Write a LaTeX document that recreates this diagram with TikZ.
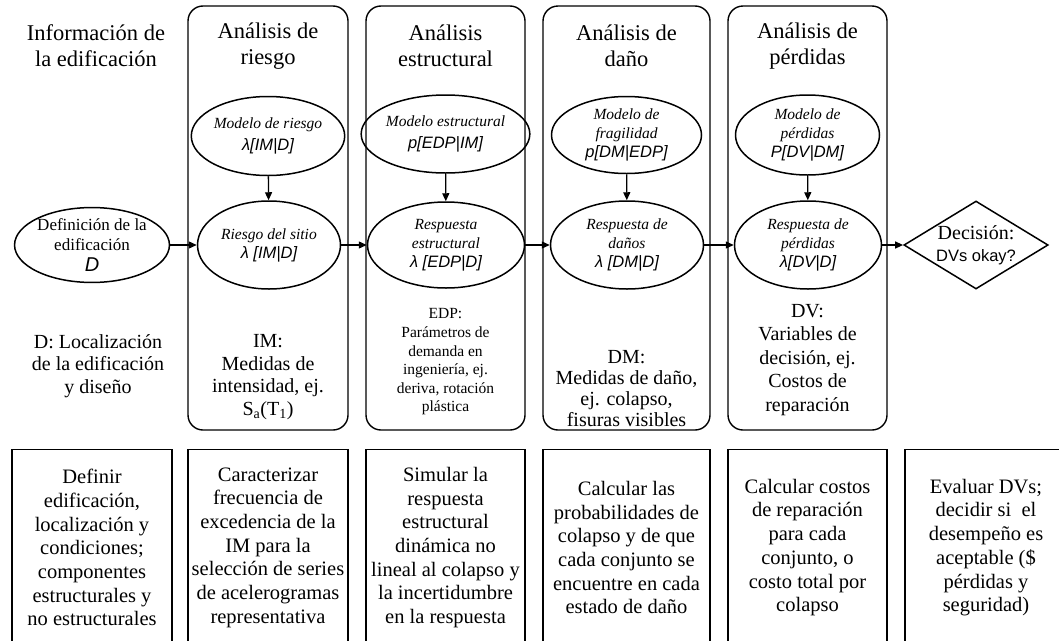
\documentclass[tikz,border=0pt]{standalone}
\usepackage{fontspec}
\setmainfont{Liberation Serif}
\setsansfont{Liberation Sans}
\usetikzlibrary{positioning}
\usetikzlibrary{shapes.geometric}
\usetikzlibrary{arrows.meta}

\newcommand{\fml}[1]{{\sffamily\itshape\fontsize{16.5}{19}\selectfont #1}}

\tikzset{
 fase/.style={draw,line width=1.4pt,rounded corners=15pt},
 tarea/.style={draw,line width=1.2pt,anchor=north,minimum height=196pt,inner sep=2pt,align=center,font=\fontsize{20.5}{23.7}\selectfont},
 modelo/.style={draw,line width=1.5pt,ellipse,inner sep=0pt,align=center,font=\fontsize{15.5}{19}\selectfont\itshape},
 titulo/.style={align=center,font=\fontsize{22.5}{26}\selectfont},
 texto/.style={align=center,font=\fontsize{20}{22.5}\selectfont},
 flecha/.style={line width=1.3pt,-{Triangle[length=8pt,width=7pt]}}
}

\begin{document}
\begin{tikzpicture}[x=1pt,y=-1pt]
 \useasboundingbox (0,0) rectangle (1059,640);
 \clip (0,0) rectangle (1059,640);
 % columnas
 \draw[fase] (188,6) rectangle (348,430);
 \draw[fase] (366,6) rectangle (525,430);
 \draw[fase] (543,6) rectangle (710,430);
 \draw[fase] (728,6) rectangle (887,430);
 % titulos
 \node[titulo] (tInfo) at (96,46) {Informaci\'on de\\la edificaci\'on};
 \node[titulo] (tRiesgo) at (268,46) {An\'alisis de\\riesgo};
 \node[titulo] (tEstr) at (445.5,46) {An\'alisis\\estructural};
 \node[titulo] (tDano) at (626.5,46) {An\'alisis de\\da\~no};
 \node[titulo] (tPerd) at (807.5,46) {An\'alisis de\\p\'erdidas};
 % modelos
 \node[modelo,minimum width=143pt,minimum height=79pt] (mRiesgo) at (268,136) {Modelo de riesgo\\[3pt]\fml{λ[IM|D]}};
 \node[modelo,minimum width=155pt,minimum height=78pt] (mEstr) at (445.5,134) {Modelo estructural\\[3pt]\fml{p[EDP|IM]}};
 \node[modelo,minimum width=150pt,minimum height=77pt] (mDano) at (626.5,135) {Modelo de\\fragilidad\\\fml{p[DM|EDP]}};
 \node[modelo,minimum width=144pt,minimum height=80pt] (mPerd) at (807.5,135) {Modelo de\\p\'erdidas\\\fml{P[DV|DM]}};
 % respuestas
 \node[modelo,font=\fontsize{17}{20.5}\selectfont,minimum width=143pt,minimum height=72pt] (dEdif) at (92,245) {Definici\'on de la\\edificaci\'on\\{\sffamily\itshape\fontsize{20}{20}\selectfont D}};
 \node[modelo,minimum width=143pt,minimum height=88pt] (rSitio) at (269,245) {Riesgo del sitio\\\fml{λ [IM|D]}};
 \node[modelo,minimum width=157pt,minimum height=86pt] (rEstr) at (446,245) {Respuesta\\estructural\\\fml{λ [EDP|D]}};
 \node[modelo,minimum width=153pt,minimum height=88pt] (rDano) at (627,245) {Respuesta de\\da\~nos\\\fml{λ [DM|D]}};
 \node[modelo,minimum width=147pt,minimum height=88pt] (rPerd) at (808,245) {Respuesta de\\p\'erdidas\\\fml{λ[DV|D]}};
 \node[draw,line width=1.5pt,diamond,aspect=1.64,inner sep=0pt,minimum width=144pt,minimum height=88pt,align=center,font=\fontsize{20}{22}\selectfont] (dec) at (976,245) {Decisi\'on:\\{\sffamily\fontsize{16.5}{20}\selectfont DVs okay?}};
 % flechas
 \draw[flecha] (mRiesgo) -- (rSitio);
 \draw[flecha] (mEstr) -- (rEstr);
 \draw[flecha] (mDano) -- (rDano);
 \draw[flecha] (mPerd) -- (rPerd);
 \draw[flecha] (dEdif) -- (rSitio);
 \draw[flecha] (rSitio) -- (rEstr);
 \draw[flecha] (rEstr) -- (rDano);
 \draw[flecha] (rDano) -- (rPerd);
 \draw[flecha] (rPerd) -- (dec);
 % variables
 \node[texto] (vD) at (98,366) {D: Localizaci\'on\\de la edificaci\'on\\y dise\~no};
 \node[texto] (vIM) at (268,377) {IM:\\Medidas de\\intensidad, ej.\\S\textsubscript{a}(T\textsubscript{1})};
 \node[texto,font=\fontsize{15.5}{18.6}\selectfont] (vEDP) at (445.5,362) {EDP:\\Par\'ametros de\\demanda en\\ingenier\'ia, ej.\\deriva, rotaci\'on\\pl\'astica};
 \node[texto,font=\fontsize{20}{21}\selectfont] (vDM) at (626.5,389) {DM:\\Medidas de da\~no,\\ej. colapso,\\fisuras visibles};
 \node[texto,font=\fontsize{20}{23.5}\selectfont] (vDV) at (807.5,360) {DV:\\Variables de\\decisi\'on, ej.\\Costos de\\reparaci\'on};
 % tareas
 \node[tarea,minimum width=160pt] (aInfo) at (92,449) {Definir\\edificaci\'on,\\localizaci\'on y\\condiciones;\\componentes\\estructurales y\\no estructurales};
 \node[tarea,minimum width=160pt] (aRiesgo) at (268,449) {Caracterizar\\frecuencia de\\excedencia de la\\IM para la\\selecci\'on de series\\de acelerogramas\\representativa};
 \node[tarea,minimum width=159pt] (aEstr) at (445.5,449) {Simular la\\respuesta\\estructural\\din\'amica no\\lineal al colapso y\\la incertidumbre\\en la respuesta};
 \node[tarea,minimum width=167pt] (aDano) at (626.5,449) {Calcular las\\probabilidades de\\colapso y de que\\cada conjunto se\\encuentre en cada\\estado de da\~no};
 \node[tarea,minimum width=159pt] (aPerd) at (807.5,449) {Calcular costos\\de reparaci\'on\\para cada\\conjunto, o\\costo total por\\colapso};
 \node[tarea,minimum width=162pt] (aDec) at (986,449) {Evaluar DVs;\\decidir si\ \ el\\desempe\~no es\\aceptable (\$\\p\'erdidas y\\seguridad)};
\end{tikzpicture}
\end{document}
